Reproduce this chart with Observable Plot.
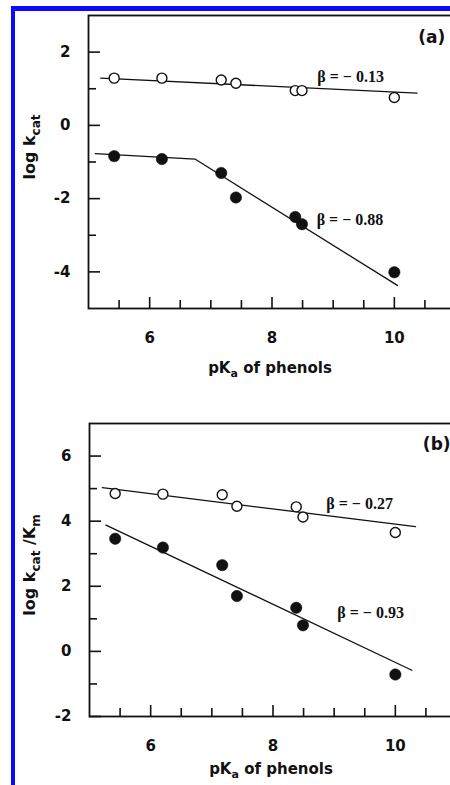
<!DOCTYPE html>
<html>
<head>
<meta charset="utf-8">
<script src="https://cdn.jsdelivr.net/npm/d3@7"></script>
<script src="https://cdn.jsdelivr.net/npm/@observablehq/plot@0.6"></script>
<style>
html,body{margin:0;padding:0;background:#fff;overflow:hidden;width:450px;height:785px}
#wrap{position:relative;width:450px;height:785px;overflow:hidden;background:#fff}
.panel{position:absolute;left:0}
.bar{position:absolute;background:#0a0aff;z-index:5}
</style>
</head>
<body>
<div id="wrap">
  <div class="panel" id="pa" style="top:0"></div>
  <div class="panel" id="pb" style="top:390px"></div>
  <div class="bar" style="left:11px;top:6px;width:4px;height:800px"></div>
  <div class="bar" style="left:11px;top:6px;width:450px;height:5px"></div>
</div>
<script>
// ---- data ----
const pKa = [5.42, 6.2, 7.17, 7.41, 8.38, 8.49, 10.0];
const logKcatOpen   = [1.29, 1.29, 1.24, 1.15, 0.95, 0.95, 0.76];
const logKcatFilled = [-0.84, -0.92, -1.30, -1.97, -2.50, -2.70, -4.01];
const logKcatKmOpen   = [4.85, 4.83, 4.81, 4.46, 4.44, 4.13, 3.65];
const logKcatKmFilled = [3.46, 3.19, 2.65, 1.70, 1.34, 0.80, -0.71];

// fitted lines (end/break points)
const fitAOpenX = [5.2, 10.37],  fitAOpenY = [1.29, 0.88];
const fitAFillX = [5.11, 6.74, 10.05], fitAFillY = [-0.77, -0.92, -4.37];
const fitBOpenX = [5.21, 10.33], fitBOpenY = [5.03, 3.83];
const fitBFillX = [5.27, 10.27], fitBFillY = [3.88, -0.58];

// annotations
const betaA = ["β = − 0.13", "β = − 0.88"];
const betaAX = [8.74, 8.73], betaAY = [1.32, -2.59];
const betaB = ["β = − 0.27", "β = − 0.93"];
const betaBX = [8.87, 9.05], betaBY = [4.53, 1.17];

// ticks
const xMajor = [6, 8, 10];
const xMinor = [5.5, 6.5, 7, 7.5, 8.5, 9, 9.5, 10.5];
const yAMajor = [-4, -2, 0, 2];
const yAMinor = [-3, -1, 1];
const yBMajor = [-2, 0, 2, 4, 6];
const yBMinor = [-1, 1, 3, 5];

const ink = "#111";
const zip = (xs, ys) => xs.map((x, i) => ({x, y: ys[i]}));

function panel({height, marginTop, marginBottom, marginLeft, width, yDomain, yMajor, yMinor,
                open, filled, fitOpen, fitFill, betas, tag}) {
  return Plot.plot({
    width, height, marginTop, marginBottom, marginLeft, marginRight: 0,
    x: {domain: [5, 11], label: null},
    y: {domain: yDomain, label: null},
    style: {maxWidth: "none", background: "transparent", color: ink,
            fontFamily: "DejaVu Sans", fontSize: "15px", fontWeight: "bold"},
    marks: [
      Plot.frame({stroke: ink, strokeWidth: 1.8}),
      Plot.axisX(xMinor, {tickSize: -8, tickFormat: () => "", label: null, strokeWidth: 1.6}),
      Plot.axisX(xMajor, {tickSize: -11, tickPadding: 35, tickFormat: d => String(d), label: null, strokeWidth: 1.6}),
      Plot.axisY(yMinor, {tickSize: -8, tickFormat: () => "", label: null, strokeWidth: 1.6}),
      Plot.axisY(yMajor, {tickSize: -12, tickPadding: 30, tickFormat: d => String(d), label: null, strokeWidth: 1.6}),
      Plot.line(fitOpen, {x: "x", y: "y", stroke: ink, strokeWidth: 1.3}),
      Plot.line(fitFill, {x: "x", y: "y", stroke: ink, strokeWidth: 1.3}),
      Plot.dot(open, {x: "x", y: "y", r: 5, stroke: ink, fill: "white", strokeWidth: 1.4}),
      Plot.dot(filled, {x: "x", y: "y", r: 5.7, fill: ink, stroke: ink, strokeWidth: 0.5}),
      Plot.text(betas, {x: "x", y: "y", text: "t", textAnchor: "start",
                        fontFamily: "Liberation Serif", fontSize: 16, fontWeight: "bold", fill: ink}),
      Plot.text([tag], {x: "x", y: "y", text: "t", textAnchor: "start",
                        fontFamily: "DejaVu Sans", fontSize: 17, fontWeight: "bold", fill: ink})
    ]
  });
}

function addTitles(svg, xCenter, xBaseline, yCenterX, yCenter, yParts) {
  const s = d3.select(svg);
  const xt = s.append("text").attr("x", xCenter).attr("y", xBaseline)
    .attr("text-anchor", "middle").attr("fill", ink)
    .style("font", "bold 15px 'DejaVu Sans'");
  xt.append("tspan").text("pK");
  xt.append("tspan").attr("dy", 4).style("font-size", "11px").text("a");
  xt.append("tspan").attr("dy", -4).text(" of phenols");

  const yt = s.append("text").attr("transform", `translate(${yCenterX},${yCenter}) rotate(-90)`)
    .attr("text-anchor", "middle").attr("fill", ink)
    .style("font", "bold 16px 'DejaVu Sans'");
  let shift = 0;
  yParts.forEach(([txt, sub]) => {
    const t = yt.append("tspan").text(txt);
    const want = sub ? 5 : 0;
    t.attr("dy", want - shift);
    if (sub) t.style("font-size", "12px");
    shift = want;
  });
}

const svgA = panel({
  width: 455, height: 390, marginTop: 15, marginBottom: 82, marginLeft: 88,
  yDomain: [-5, 3], yMajor: yAMajor, yMinor: yAMinor,
  open: zip(pKa, logKcatOpen), filled: zip(pKa, logKcatFilled),
  fitOpen: zip(fitAOpenX, fitAOpenY), fitFill: zip(fitAFillX, fitAFillY),
  betas: betaA.map((t, i) => ({t, x: betaAX[i], y: betaAY[i]})),
  tag: {t: "(a)", x: 10.39, y: 2.39}
});
addTitles(svgA, 270, 373, 35, 147, [["log k", false], ["cat", true]]);
document.getElementById("pa").appendChild(svgA);

const svgB = panel({
  width: 456, height: 395, marginTop: 33, marginBottom: 69, marginLeft: 89,
  yDomain: [-2, 7], yMajor: yBMajor, yMinor: yBMinor,
  open: zip(pKa, logKcatKmOpen), filled: zip(pKa, logKcatKmFilled),
  fitOpen: zip(fitBOpenX, fitBOpenY), fitFill: zip(fitBFillX, fitBFillY),
  betas: betaB.map((t, i) => ({t, x: betaBX[i], y: betaBY[i]})),
  tag: {t: "(b)", x: 10.45, y: 6.36}
});
addTitles(svgB, 271, 384, 35, 175, [["log k", false], ["cat", true], [" /K", false], ["m", true]]);
document.getElementById("pb").appendChild(svgB);
</script>
</body>
</html>
